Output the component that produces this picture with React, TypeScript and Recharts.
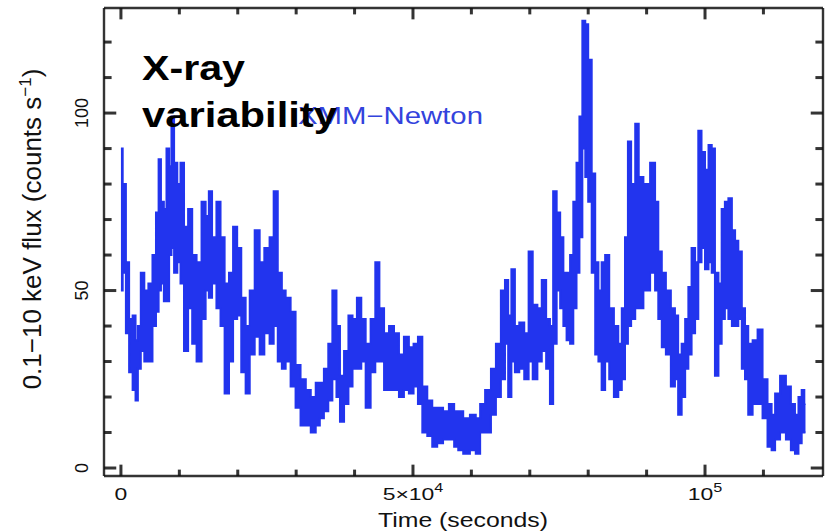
import React from "react";
import { Area, ComposedChart, ReferenceLine, XAxis, YAxis } from "recharts";

// light curve: time (s), upper and lower edge of the band (counts/s)
const timeSec = [
  0, 600, 1100, 1700, 2300, 2700, 3100, 3700, 4300, 5100, 5700, 6300, 6600, 7100, 7600, 8000, 8500, 8800, 9400, 9900,
  10500, 11100, 11900, 12500, 13400, 14200, 14800, 15300, 15900, 16800, 17300, 18200, 18800, 19600, 20200, 21000, 21700,
  22400, 23400, 24100, 25000, 25900, 26400, 27300, 27800, 28600, 29500, 30300, 31200, 32100, 32900, 33800, 34300, 35200,
  35800, 36600, 37200, 37800, 38600, 39300, 40000, 40800, 41500, 42300, 43200, 43900, 44600, 45500, 46300, 47200, 48000,
  48900, 49700, 50500, 51200, 52000, 52900, 53700, 54600, 55700, 56600, 57500, 58000, 59200, 60300, 61200, 61800, 62900,
  63800, 64600, 65500, 66000, 66600, 67100, 67800, 68600, 69500, 70100, 70900, 71700, 72400, 73200, 73700, 74300, 74900,
  75500, 76000, 76600, 77200, 77700, 78300, 78700, 79300, 79700, 80300, 80900, 81500, 82000, 82600, 83200, 84000, 84800,
  85500, 86000, 86600, 87000, 87700, 88400, 88900, 90000, 91200, 91700, 92300, 92900, 93700, 94600, 95100, 95700, 96300,
  96900, 97400, 98000, 98600, 99100, 99700, 100300, 100900, 101400, 102000, 102600, 103100, 103700, 104300, 104900,
  105400, 106000, 106600, 107100, 107700, 108600, 109400, 110300, 111100, 111700, 112300, 113400, 114300, 115100,
  115700, 116300, 116800, 117200,
];
const fluxHigh = [
  90, 80, 58, 42, 43, 36, 40, 55, 50, 52, 60, 72, 87, 75, 73, 90, 85, 99, 86, 80,
  86, 68, 73, 60, 58, 75, 71, 78, 65, 75, 65, 52, 55, 68, 62, 48, 40,
  50, 67, 58, 62, 65, 78, 55, 50, 48, 44, 29, 25, 22, 20, 24, 24, 28,
  35, 50, 40, 26, 33, 43, 42, 48, 42, 35, 42, 58, 45, 38, 40, 38, 32,
  37, 34, 35, 37, 23, 19, 17, 17, 16, 18, 16, 16, 14, 15, 14, 18, 22,
  28, 35, 50, 53, 43, 56, 40, 41, 38, 61, 46, 45, 53, 42, 40, 78, 72,
  65, 55, 55, 60, 75, 86, 99, 126, 125, 115, 83, 58, 50, 58, 60, 45, 40,
  35, 45, 65, 92, 80, 97, 82, 80, 86, 75, 61, 55, 50, 45, 43, 32, 35,
  42, 51, 62, 58, 95, 89, 84, 91, 90, 55, 52, 73, 75, 76, 67,
  64, 61, 45, 40, 35, 36, 39, 25, 18, 15, 21, 26, 23, 18,
  15, 20, 22, 18,
];
const fluxLow = [
  50, 55, 38, 27, 22, 19, 28, 33, 30, 30, 40, 44, 50, 52, 47, 47, 60, 62, 55, 58,
  52, 33, 45, 35, 30, 42, 50, 48, 52, 45, 40, 21, 30, 42, 43, 27, 21,
  32, 37, 32, 38, 35, 40, 30, 28, 30, 23, 17, 12, 12, 10, 12, 14, 16,
  19, 25, 20, 13, 18, 23, 28, 28, 30, 17, 27, 30, 30, 22, 22, 22, 20,
  22, 21, 23, 18, 10, 9, 6, 7, 8, 8, 6, 5, 4, 5, 4, 10, 10,
  15, 20, 25, 35, 20, 30, 27, 28, 25, 30, 25, 30, 33, 28, 18, 35, 50,
  45, 40, 36, 35, 45, 55, 65, 90, 82, 75, 55, 32, 30, 22, 30, 25, 20,
  22, 25, 35, 40, 42, 45, 45, 50, 55, 50, 42, 34, 32, 23, 25, 15, 20,
  28, 32, 38, 42, 58, 62, 56, 58, 55, 26, 35, 42, 45, 42, 40,
  40, 42, 28, 25, 15, 18, 18, 14, 6, 5, 8, 10, 8, 5,
  4, 7, 10, 10,
];

const xTicks = [0, 10000, 20000, 30000, 40000, 50000, 60000, 70000, 80000, 90000, 100000, 110000];
const xTickLabels = [
  { value: 0, base: "0", exp: "" },
  { value: 50000, base: "5×10", exp: "4" },
  { value: 100000, base: "10", exp: "5" },
];
const yTicks = [0, 10, 20, 30, 40, 50, 60, 70, 80, 90, 100, 110, 120];
const yTickLabels = [0, 50, 100];

const X_MIN = -2900;
const X_MAX = 120200;
const Y_MIN = -2.25;
const Y_MAX = 129.6;

const BLUE = "#2234ee";
const FRAME = "#111";
const FONT = "'Liberation Sans', Arial, Helvetica, sans-serif";

const data = timeSec.map((t, i) => ({ t, hi: fluxHigh[i], lo: fluxLow[i] }));

// inward tick lengths, in axis units (about 11/6 px on x ticks, 12/7 px on y ticks)
const xTickLen = (v: number) => (v % 50000 === 0 ? 3.2 : 1.8);
const yTickLen = (v: number) => (v % 50 === 0 ? 2100 : 1300);

function BottomTick({ x, y, payload }: any) {
  const lbl = xTickLabels.find((l) => l.value === payload.value);
  if (!lbl) return <g />;
  return (
    <text
      transform={`translate(${x},${y + 24}) scale(1.35,1)`}
      textAnchor="middle"
      fontFamily={FONT}
      fontSize={17}
      fill="#111"
    >
      {lbl.base}
      {lbl.exp && (
        <tspan dy={-8} fontSize={12}>
          {lbl.exp}
        </tspan>
      )}
    </text>
  );
}

function LeftTick({ y, payload }: any) {
  if (!yTickLabels.includes(payload.value)) return <g />;
  return (
    <text transform={`translate(88,${y}) rotate(-90)`} textAnchor="middle" fontFamily={FONT} fontSize={18} fill="#111">
      {payload.value}
    </text>
  );
}

const renderYTitle = () => (
  <text transform="translate(41,229) rotate(-90)" textAnchor="middle" fontFamily={FONT} fontSize={26} fill="#111">
    0.1−10 keV flux (counts s
    <tspan dy={-10} fontSize={17}>
      −1
    </tspan>
    <tspan dy={10}>)</tspan>
  </text>
);

const renderXTitle = () => (
  <text x={378} y={527} textLength={170} lengthAdjust="spacingAndGlyphs" fontFamily={FONT} fontSize={20} fill="#111">
    Time (seconds)
  </text>
);

const seg = (x1: number, y1: number, x2: number, y2: number, key: string, w = 3) => (
  <ReferenceLine
    key={key}
    xAxisId="b"
    yAxisId="l"
    segment={[
      { x: x1, y: y1 },
      { x: x2, y: y2 },
    ]}
    stroke={FRAME}
    strokeWidth={w}
    strokeOpacity={0.85}
    ifOverflow="visible"
  />
);

export default function App() {
  return (
    <div style={{ position: "absolute", left: 0, top: 0, width: 827, height: 532, background: "#fff" }}>
      <ComposedChart width={827} height={532} data={data} margin={{ top: 8, right: 4, bottom: 0, left: 0 }}>
        <XAxis
          xAxisId="b"
          dataKey="t"
          type="number"
          domain={[X_MIN, X_MAX]}
          allowDataOverflow
          ticks={xTicks}
          interval={0}
          tickSize={0}
          tickMargin={0}
          tickLine={false}
          tick={(p: any) => <BottomTick {...p} />}
          axisLine={false}
          height={56}
          label={renderXTitle}
        />
        <YAxis
          yAxisId="l"
          type="number"
          domain={[Y_MIN, Y_MAX]}
          allowDataOverflow
          ticks={yTicks}
          interval={0}
          tickSize={0}
          tickMargin={0}
          tickLine={false}
          tick={(p: any) => <LeftTick {...p} />}
          axisLine={false}
          width={104}
          label={renderYTitle}
        />
        <Area
          xAxisId="b"
          yAxisId="l"
          dataKey={(d: any) => [d.lo, d.hi]}
          type="step"
          stroke={BLUE}
          strokeWidth={2}
          fill={BLUE}
          fillOpacity={1}
          dot={false}
          activeDot={false}
          isAnimationActive={false}
        />
        {/* plot frame */}
        {seg(X_MIN, Y_MIN, X_MAX, Y_MIN, "fb", 2.4)}
        {seg(X_MIN, Y_MAX, X_MAX, Y_MAX, "ft", 2.4)}
        {seg(X_MIN, Y_MIN, X_MIN, Y_MAX, "fl", 2.4)}
        {seg(X_MAX, Y_MIN, X_MAX, Y_MAX, "fr", 2.4)}
        {/* inward ticks on all four sides */}
        {xTicks.map((v) => seg(v, Y_MIN, v, Y_MIN + xTickLen(v), `tb${v}`))}
        {xTicks.map((v) => seg(v, Y_MAX, v, Y_MAX - xTickLen(v), `tt${v}`))}
        {yTicks.map((v) => seg(X_MIN, v, X_MIN + yTickLen(v), v, `tl${v}`))}
        {yTicks.map((v) => seg(X_MAX, v, X_MAX - yTickLen(v), v, `tr${v}`))}
      </ComposedChart>
      <svg width={827} height={532} style={{ position: "absolute", left: 0, top: 0, pointerEvents: "none" }}>
        <text x={298} y={124} textLength={185} lengthAdjust="spacingAndGlyphs" fontFamily={FONT} fontSize={23} fill="#3343dd">
          XMM−Newton
        </text>
        <text x={142} y={80} textLength={103} lengthAdjust="spacingAndGlyphs" fontFamily={FONT} fontWeight="bold" fontSize={35} fill="#000">
          X-ray
        </text>
        <text x={142} y={127} textLength={195} lengthAdjust="spacingAndGlyphs" fontFamily={FONT} fontWeight="bold" fontSize={35} fill="#000">
          variability
        </text>
      </svg>
    </div>
  );
}
